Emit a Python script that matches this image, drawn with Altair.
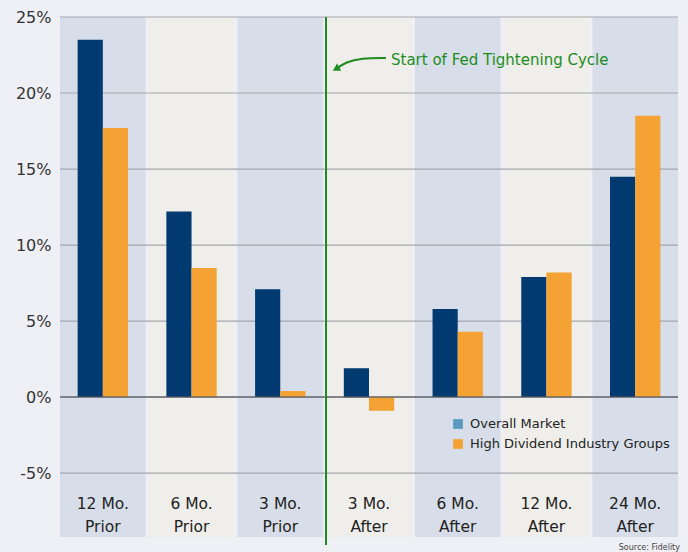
import altair as alt
import pandas as pd

categories = ["12 Mo. Prior", "6 Mo. Prior", "3 Mo. Prior", "3 Mo. After",
              "6 Mo. After", "12 Mo. After", "24 Mo. After"]
label_top = ["12 Mo.", "6 Mo.", "3 Mo.", "3 Mo.", "6 Mo.", "12 Mo.", "24 Mo."]
label_bottom = ["Prior", "Prior", "Prior", "After", "After", "After", "After"]
overall_market = [23.5, 12.2, 7.1, 1.9, 5.8, 7.9, 14.5]
high_dividend = [17.7, 8.5, 0.4, -0.9, 4.3, 8.2, 18.5]
series_names = ["Overall Market", "High Dividend Industry Groups"]
y_ticks = [-5, 0, 5, 10, 15, 20, 25]

FONT = "DejaVu Sans"
W, H = 618, 520
Y_MIN, Y_MAX = -9.2, 25

bands = pd.DataFrame({
    "cat": categories,
    "shade": ["a", "b", "a", "b", "a", "b", "a"],
    "top": label_top,
    "bottom": label_bottom,
    "ymin": [Y_MIN] * 7,
    "ymax": [Y_MAX] * 7,
})
rows = []
for c, v1, v2 in zip(categories, overall_market, high_dividend):
    rows.append({"cat": c, "series": series_names[0], "value": v1})
    rows.append({"cat": c, "series": series_names[1], "value": v2})
bars_df = pd.DataFrame(rows)
grid_df = pd.DataFrame({"y": y_ticks})

xscale = alt.Scale(domain=categories, paddingInner=0.035, paddingOuter=0.0)
yscale = alt.Scale(domain=[Y_MIN, Y_MAX], nice=False)

band_layer = alt.Chart(bands).mark_rect().encode(
    x=alt.X("cat:N", scale=xscale, axis=None, sort=categories),
    y=alt.Y("ymin:Q", scale=yscale,
            axis=alt.Axis(values=y_ticks, labelExpr="datum.value + '%'",
                          grid=False, domain=False, ticks=False,
                          labelFont=FONT, labelFontSize=16, labelColor="#333333",
                          labelPadding=9, title=None)),
    y2="ymax:Q",
    fill=alt.Fill("shade:N", scale=alt.Scale(domain=["a", "b"], range=["#d8dee9", "#efeeea"]),
                  legend=None),
)

grid_layer = alt.Chart(grid_df).mark_rule(color="#a3a6ad", strokeWidth=1.2).encode(
    y=alt.Y("y:Q", scale=yscale)
)

bar_layer = alt.Chart(bars_df).mark_bar().encode(
    x=alt.X("cat:N", scale=xscale, sort=categories),
    xOffset=alt.XOffset("series:N", sort=series_names,
                        scale=alt.Scale(paddingInner=0, paddingOuter=0.7)),
    y=alt.Y("value:Q", scale=yscale),
    y2=alt.datum(0),
    color=alt.Color("series:N", scale=alt.Scale(domain=series_names, range=["#003a70", "#f4a233"]),
                    legend=None),
)

zero_layer = alt.Chart(pd.DataFrame({"y": [0]})).mark_rule(color="#555a60", strokeWidth=1.5, opacity=0.8).encode(
    y=alt.Y("y:Q", scale=yscale)
)

label_top_layer = alt.Chart(bands).mark_text(font=FONT, fontSize=15.5, color="#222222").encode(
    x=alt.X("cat:N", scale=xscale, sort=categories),
    y=alt.value(487),
    text="top:N",
)
label_bottom_layer = alt.Chart(bands).mark_text(font=FONT, fontSize=15.5, color="#222222").encode(
    x=alt.X("cat:N", scale=xscale, sort=categories),
    y=alt.value(510),
    text="bottom:N",
)

fed_line = alt.Chart(pd.DataFrame({"a": [0]})).mark_rule(color="#1e8c1e", strokeWidth=2).encode(
    x=alt.value(266), y=alt.value(0), y2=alt.value(528)
)

arrow_pts = pd.DataFrame({"px": [326, 301, 286, 276], "py": [41, 41, 45, 52], "o": [0, 1, 2, 3]})
arrow_line = alt.Chart(arrow_pts).mark_line(color="#1e8c1e", strokeWidth=2, interpolate="basis").encode(
    x=alt.X("px:Q", scale=None), y=alt.Y("py:Q", scale=None), order="o:O"
)
arrow_head = alt.Chart(pd.DataFrame({"a": [0]})).mark_point(
    shape="triangle-left", filled=True, color="#1e8c1e", size=70, angle=330, opacity=1
).encode(x=alt.value(276), y=alt.value(52))

annot = alt.Chart(pd.DataFrame({"t": ["Start of Fed Tightening Cycle"]})).mark_text(
    font=FONT, fontSize=15, color="#1e8c1e", align="left", baseline="middle"
).encode(x=alt.value(331), y=alt.value(43), text="t:N")

legend_df = pd.DataFrame({"name": series_names, "py": [407, 427], "col": ["#5b9ac0", "#f4a233"]})
legend_sq = alt.Chart(legend_df).mark_square(size=95, opacity=1).encode(
    x=alt.value(398), y=alt.Y("py:Q", scale=None),
    fill=alt.Fill("col:N", scale=None),
)
legend_txt = alt.Chart(legend_df).mark_text(font=FONT, fontSize=13, color="#222222", align="left",
                                            baseline="middle").encode(
    x=alt.value(410), y=alt.Y("py:Q", scale=None), text="name:N"
)

source = alt.Chart(pd.DataFrame({"t": ["Source: Fidelity"]})).mark_text(
    font=FONT, fontSize=8, color="#444444", align="right", baseline="middle"
).encode(x=alt.value(620), y=alt.value(531), text="t:N")

chart = alt.layer(
    band_layer, grid_layer, bar_layer, zero_layer, label_top_layer, label_bottom_layer,
    fed_line, arrow_line, arrow_head, annot, legend_sq, legend_txt, source
).resolve_scale(
    color="independent", fill="independent"
).properties(
    width=W, height=H,
    autosize=alt.AutoSizeParams(type="none"),
    padding={"left": 60, "top": 17, "right": 10, "bottom": 15},
    background="#eff0f5",
).configure_view(stroke=None)

chart.save("out.html", embed_options={"renderer": "svg", "actions": False})
